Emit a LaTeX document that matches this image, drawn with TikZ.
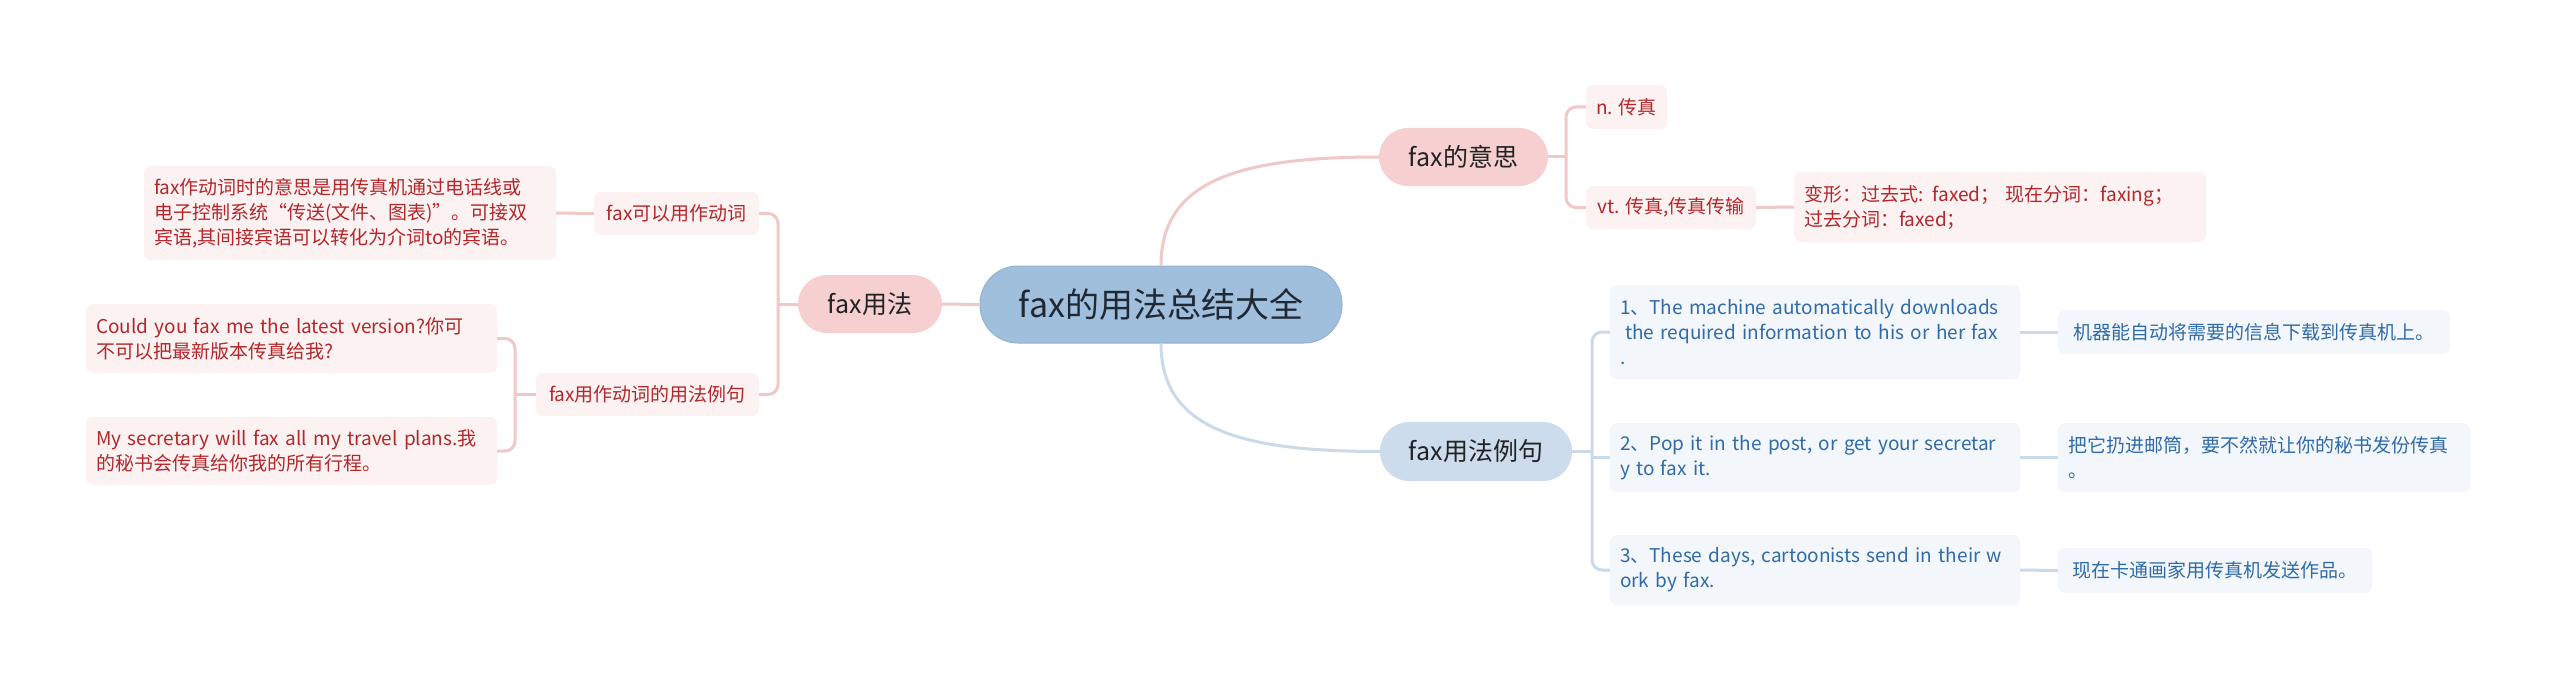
\documentclass[tikz,border=0pt]{standalone}
\usepackage{fontspec}
\setmainfont{Noto Sans CJK SC}
\definecolor{rootc}{HTML}{A0BFDC}
\definecolor{rootd}{HTML}{93B3D3}
\definecolor{roott}{HTML}{1F2833}
\definecolor{pinkm}{HTML}{F6D0D0}
\definecolor{pinkl}{HTML}{FCF2F2}
\definecolor{pinkt}{HTML}{B3272B}
\definecolor{pinkc}{HTML}{F1C8C8}
\definecolor{bluem}{HTML}{CCDCEC}
\definecolor{bluel}{HTML}{F3F7FB}
\definecolor{bluet}{HTML}{2F6BA8}
\definecolor{bluec}{HTML}{CADAE9}
\definecolor{maint}{HTML}{222222}
\tikzset{
  rootbox/.style={fill=rootc, draw=rootd, line width=1pt, rounded corners=38pt, minimum width=362pt, minimum height=77pt, inner sep=0pt, text=roott, font=\fontsize{34}{40}\selectfont},
  pmain/.style={fill=pinkm, rounded corners=29pt, inner sep=0pt, text=maint, font=\fontsize{25}{30}\selectfont},
  bmain/.style={fill=bluem, rounded corners=29pt, inner sep=0pt, text=maint, font=\fontsize{25}{30}\selectfont},
  pleaf/.style={fill=pinkl, rounded corners=7pt, inner sep=0pt, text=pinkt, font=\fontsize{19}{25}\selectfont},
  bleaf/.style={fill=bluel, rounded corners=7pt, inner sep=0pt, text=bluet, font=\fontsize{19}{25}\selectfont},
  pleafm/.style={pleaf, align=left, inner xsep=10pt},
  bleafm/.style={bleaf, align=left, inner xsep=10pt},
  pline/.style={draw=pinkc, line width=3pt},
  bline/.style={draw=bluec, line width=3pt},
}
\begin{document}
\begin{tikzpicture}[x=1pt,y=-1pt]
\fill[white] (0,0) rectangle (2560,690);
\useasboundingbox (0,0) rectangle (2560,690);

% nodes
\node[rootbox] (root) at (1161,304.5) {fax的用法总结大全};
\node[pmain, minimum width=144pt, minimum height=58pt] (fy) at (870,304) {fax用法};
\node[pmain, minimum width=169pt, minimum height=58pt] (fm) at (1463.5,157) {fax的意思};
\node[bmain, minimum width=192pt, minimum height=59pt] (fe) at (1476,451.5) {fax用法例句};

\node[pleaf, minimum width=165pt, minimum height=43pt] (fkv) at (676.5,213.5) {fax可以用作动词};
\node[pleafm, text width=392pt, minimum height=94pt] (desc) at (350,213) {fax作动词时的意思是用传真机通过电话线或\\电子控制系统“传送(文件、图表)”。可接双\\宾语,其间接宾语可以转化为介词to的宾语。};
\node[pleaf, minimum width=223pt, minimum height=43pt] (fex) at (647.5,394.5) {fax用作动词的用法例句};
\node[pleafm, text width=391pt, minimum height=69pt] (could) at (291.5,338.5) {Could you fax me the latest version?你可\\不可以把最新版本传真给我?};
\node[pleafm, text width=391pt, minimum height=68pt] (mysec) at (291.5,451) {My secretary will fax all my travel plans.我\\的秘书会传真给你我的所有行程。};

\node[pleaf, minimum width=81pt, minimum height=44pt] (n) at (1626.5,107) {n. 传真};
\node[pleaf, minimum width=170pt, minimum height=43pt] (vt) at (1671,207.5) {vt. 传真,传真传输};
\node[pleafm, text width=392pt, minimum height=70pt] (bx) at (2000,207) {变形：过去式: faxed；\hspace{6pt}现在分词：faxing；\\过去分词：faxed；};

\node[bleafm, text width=390pt, minimum height=94pt] (e1) at (1815,332) {1、The machine automatically downloads\\\hspace{5pt}the required information to his or her fax\\.};
\node[bleaf, minimum width=392pt, minimum height=44pt] (z1) at (2254,332) {机器能自动将需要的信息下载到传真机上。};
\node[bleafm, text width=390pt, minimum height=69pt] (e2) at (1815,457.5) {2、Pop it in the post, or get your secretar\\y to fax it.};
\node[bleafm, text width=392pt, minimum height=69pt] (z2) at (2264,457.5) {把它扔进邮筒，要不然就让你的秘书发份传真\\。};
\node[bleafm, text width=390pt, minimum height=70pt] (e3) at (1815,570) {3、These days, cartoonists send in their w\\ork by fax.};
\node[bleaf, minimum width=314pt, minimum height=45pt] (z3) at (2215,570.5) {现在卡通画家用传真机发送作品。};

% connectors
\coordinate (jL) at (778,304);
\coordinate (jL2) at (515,394.5);
\coordinate (jR) at (1566,157);
\coordinate (jB) at (1592,451.5);

\draw[pline] (root.west) -- (fy.east);
\draw[pline] (root.north) .. controls (1161,180) and (1240,157) .. (fm.west);
\draw[bline] (root.south) .. controls (1161,429) and (1240,451.5) .. (fe.west);

\draw[pline] (fy.west) -- (jL);
\draw[pline, rounded corners=10pt] (fkv.east) -| (jL);
\draw[pline, rounded corners=10pt] (fex.east) -| (jL);
\draw[pline] (fkv.west) -- (desc.east);
\draw[pline] (fex.west) -- (jL2);
\draw[pline, rounded corners=10pt] (could.east) -| (jL2);
\draw[pline, rounded corners=10pt] (mysec.east) -| (jL2);

\draw[pline] (fm.east) -- (jR);
\draw[pline, rounded corners=10pt] (n.west) -| (jR);
\draw[pline, rounded corners=10pt] (vt.west) -| (jR);
\draw[pline] (vt.east) -- (bx.west);

\draw[bline] (fe.east) -- (jB);
\draw[bline, rounded corners=10pt] (e1.west) -| (jB);
\draw[bline, rounded corners=10pt] (e3.west) -| (jB);
\draw[bline] (e2.west) -- (jB |- e2.west);
\draw[bline] (e1.east) -- (z1.west);
\draw[bline] (e2.east) -- (z2.west);
\draw[bline] (e3.east) -- (z3.west);
\end{tikzpicture}
\end{document}
